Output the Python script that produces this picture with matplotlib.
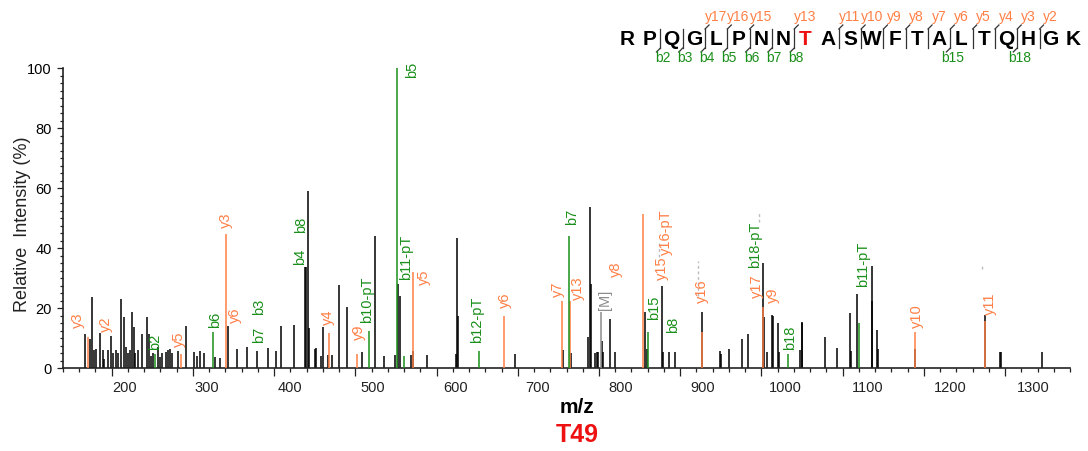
import matplotlib
matplotlib.use('Agg')
import matplotlib.pyplot as plt
import matplotlib.transforms as mtransforms
from matplotlib.lines import Line2D
from matplotlib.ticker import MultipleLocator, FixedLocator

plt.rcParams['font.family'] = ['Liberation Sans', 'DejaVu Sans']

W, H = 1088, 452
ORANGE = '#FF7F45'
GREEN = '#1A8F1A'
GRAY = '#8C8C8C'
RED = '#EE1111'

# ---------------- data ----------------
black_mz = [166.6, 172.8, 175.2, 178.0, 181.0, 185.1, 188.8, 191.0, 195.0, 198.6,
            201.0, 205.0, 208.0, 211.8, 215.0, 218.0, 220.0, 222.0, 225.4, 227.0,
            229.0, 232.0, 237.7, 243.4, 245.8, 248.0, 251.0, 256.9, 259.9, 262.0,
            267.3, 269.5, 271.5, 274.2, 281.6, 292.0, 301.0, 305.5, 308.3, 313.3,
            327.7, 333.0, 343.2, 354.8, 366.6, 378.9, 392.1, 402.0, 409.0, 424.5,
            438.0, 439.0, 441.8, 443.0, 450.9, 452.1, 458.3, 460.3, 466.4, 471.4,
            480.0, 489.8, 507.6, 524.8, 535.4, 548.6, 552.7, 554.8, 568.0, 571.2,
            587.7, 623.4, 625.4, 626.6, 696.5, 755.3, 765.2, 786.1, 788.9, 789.8,
            795.1, 797.2, 799.1, 803.3, 804.6, 813.6, 819.7, 856.7, 859.5, 877.3,
            879.3, 886.3, 893.7, 926.6, 949.1, 950.4, 960.6, 976.6, 984.0, 1001.7,
            1003.3, 1006.6, 1012.8, 1014.0, 1020.9, 1022.2, 1047.7, 1049.8, 1050.5, 1078.5,
            1092.9, 1108.5, 1110.2, 1118.3, 1136.1, 1136.8, 1142.2, 1143.5, 1189.5, 1274.8,
            1294.2, 1295.4, 1345.5]
black_int = [11.3, 9.6, 23.6, 6.0, 6.5, 11.6, 6.0, 3.0, 6.0, 10.8,
             5.0, 6.0, 5.0, 23.0, 17.0, 7.0, 5.0, 6.0, 18.8, 13.6,
             5.0, 6.0, 11.3, 17.1, 11.3, 4.0, 5.0, 6.9, 3.6, 5.0,
             5.5, 6.0, 6.2, 5.0, 5.8, 14.1, 5.2, 4.1, 5.8, 5.0,
             3.6, 3.3, 14.1, 6.4, 7.0, 5.7, 6.8, 5.7, 14.1, 14.3,
             33.6, 33.6, 59.1, 13.4, 6.4, 6.8, 4.0, 13.6, 4.5, 4.5,
             27.7, 20.2, 5.2, 43.9, 4.0, 4.5, 28.0, 23.9, 4.2, 5.7,
             4.2, 4.8, 43.2, 17.4, 4.8, 6.0, 5.0, 10.2, 53.6, 28.0,
             5.0, 5.2, 5.5, 9.1, 5.5, 16.3, 5.2, 18.8, 6.3, 27.4,
             5.2, 5.2, 5.4, 18.8, 5.8, 4.7, 6.3, 9.7, 11.3, 35.0,
             16.9, 5.2, 17.6, 17.3, 15.0, 5.2, 6.1, 15.2, 14.9, 10.2,
             6.6, 18.2, 5.8, 24.7, 34.1, 22.4, 12.8, 6.4, 6.2, 17.6,
             5.3, 5.4, 5.2]

y_ion_mz = [170.7, 285.8, 341.2, 467.7, 502.2, 570.4, 683.3, 754.1, 764.6, 854.6,
            927.3, 1002.5, 1188.6, 1275.7]
y_ion_int = [10.5, 4.7, 44.7, 11.7, 4.8, 32.1, 17.4, 22.2, 22.4, 51.3,
             12.1, 20.4, 11.9, 15.6]

b_ion_mz = [253.7, 324.7, 516.6, 551.5, 560.1, 652.1, 763.1, 860.8, 1033.3, 1119.6]
b_ion_int = [4.7, 11.9, 12.2, 100.0, 4.0, 5.6, 43.9, 12.1, 4.7, 15.0]

precursor_mz = [802.1]
precursor_int = [18.6]

label_text = ['y3', 'y2', 'b2', 'y5', 'b6', 'y3', 'y6', 'b7', 'b3', 'b4', 'b8',
              'y4', 'y9', 'b10-pT', 'b5', 'b11-pT', 'y5', 'b12-pT', 'y6', 'y7',
              'b7', 'y13', '[M]', 'y8', 'b15', 'y15', 'y16-pT', 'b8', 'y16',
              'b18-pT', 'y17', 'y9', 'b18', 'b11-pT', 'y10', 'y11']
label_mz = [158.3, 193.3, 252.9, 282.8, 326.8, 341.2, 351.5, 381.4, 381.4, 431.6, 433.6,
            466.4, 504.3, 514.5, 569.2, 563.0, 584.7, 650.0, 684.2, 749.8,
            766.4, 774.5, 807.4, 821.0, 868.2, 877.3, 882.6, 891.6, 926.6,
            992.3, 994.3, 1014.8, 1035.4, 1125.0, 1191.5, 1281.9]
label_base = [13.7, 12.4, 6.3, 7.4, 13.7, 46.9, 15.2, 8.6, 18.0, 34.7, 45.2,
              14.7, 9.7, 15.2, 96.9, 29.7, 28.0, 8.6, 20.2, 24.1,
              48.0, 23.0, 19.7, 30.8, 16.3, 29.7, 38.0, 11.9, 21.9,
              33.6, 23.6, 21.9, 6.3, 27.4, 13.6, 18.0]

dash_mz = [874.0, 922.4, 997.6, 1271.6]
dash_lo = [37.0, 24.1, 48.7, 33.0]
dash_hi = [42.4, 35.8, 52.0, 34.7]

sequence = "RPQGLPNNTASWFTALTQHGK"
phospho_site = 8          # 0-based index of the red T
y_ions = [17, 16, 15, 13, 11, 10, 9, 8, 7, 6, 5, 4, 3, 2]
b_ions = [2, 3, 4, 5, 6, 7, 8, 15, 18]

x_major = list(range(200, 1400, 100))

# ---------------- figure ----------------
fig = plt.figure(figsize=(W / 100, H / 100), dpi=100)
ax = fig.add_axes([63 / W, (H - 369) / H, (1070 - 63) / W, 300 / H])

ax.vlines(black_mz, 0, black_int, color='black', lw=1.1, zorder=2)
ax.vlines(y_ion_mz, 0, y_ion_int, color=ORANGE, lw=1.1, zorder=3)
ax.vlines(b_ion_mz, 0, b_ion_int, color=GREEN, lw=1.1, zorder=3)
ax.vlines(precursor_mz, 0, precursor_int, color=GRAY, lw=1.1, zorder=3)
ax.vlines(dash_mz, dash_lo, dash_hi, color='#BBBBBB', lw=1.0,
          linestyles=(0, (2, 2)), zorder=1)

color_of = {'y': ORANGE, 'b': GREEN, '[': GRAY}
for t, mz, yb in zip(label_text, label_mz, label_base):
    ax.text(mz, yb, t, rotation=90, ha='center', va='bottom',
            color=color_of[t[0]], fontsize=10.5, zorder=4)

ax.set_xlim(140, 1380)
ax.set_ylim(0, 100)
for s in ['top', 'right']:
    ax.spines[s].set_visible(False)
for s in ['left', 'bottom']:
    ax.spines[s].set_linewidth(1.2)
    ax.spines[s].set_color('#222222')

ax.xaxis.set_major_locator(FixedLocator(x_major))
ax.xaxis.set_minor_locator(MultipleLocator(20))
ax.yaxis.set_major_locator(MultipleLocator(20))
ax.yaxis.set_minor_locator(MultipleLocator(2.5))
ax.tick_params(axis='x', which='major', length=6, width=0.9, direction='out',
               labelbottom=False, color='#222222')
ax.tick_params(axis='x', which='minor', length=3, width=0.9, direction='out', color='#222222')
ax.tick_params(axis='y', which='major', length=4.5, width=0.9, direction='out',
               labelsize=10.5, pad=3.5, color='#222222')
ax.tick_params(axis='y', which='minor', length=2.2, width=0.9, direction='out', color='#222222')

# x tick labels (placed slightly to the right of the ticks as in the reference)
for v in x_major:
    dx = (12.9 + 0.014 * (v - 200)) / 100.0
    tr = ax.get_xaxis_transform() + mtransforms.ScaledTranslation(dx, -12.5 / 100.0, fig.dpi_scale_trans)
    ax.text(v, 0, str(v), transform=tr, ha='center', va='top', fontsize=10.5, color='#222222')

fig.text(23 / W, 1 - 224 / H, 'Relative  Intensity (%)', rotation=90,
         ha='center', va='center', fontsize=13, color='#222222')
fig.text(577 / W, 1 - 408 / H, 'm/z', ha='center', va='center',
         fontsize=15, fontweight='bold', color='black')
fig.text(577 / W, 1 - 435 / H, 'T49', ha='center', va='center',
         fontsize=18, fontweight='bold', color=RED)

# ---------------- peptide sequence with fragment marks ----------------
x0, step = 627.0, 22.3
yc, ytop, ybot = 39.5, 30.0, 49.0
n = len(sequence)
for i, aa in enumerate(sequence):
    fig.text((x0 + step * i) / W, 1 - yc / H, aa, ha='center', va='center',
             fontsize=15, fontweight='bold',
             color=RED if i == phospho_site else 'black')


def fline(xs, ys, color):
    fig.add_artist(Line2D([x / W for x in xs], [1 - y / H for y in ys],
                          transform=fig.transFigure, color=color, lw=0.9))


for k in range(1, n):
    xb = x0 + step * (k - 0.5)
    has_b = k in b_ions
    has_y = (n - k) in y_ions
    if not (has_b or has_y):
        continue
    fline([xb, xb], [ytop, ybot], '#333333')
    if has_y:
        fline([xb, xb + 4], [ytop, ytop - 4], '#333333')
        fig.text((xb + 11) / W, 1 - 17 / H, 'y%d' % (n - k), ha='center', va='center',
                 fontsize=10, color=ORANGE)
    if has_b:
        fline([xb, xb - 4], [ybot, ybot + 4], '#333333')
        fig.text((xb + 2) / W, 1 - 58 / H, 'b%d' % k, ha='center', va='center',
                 fontsize=10, color=GREEN)

fig.savefig('out.png', dpi=100)
